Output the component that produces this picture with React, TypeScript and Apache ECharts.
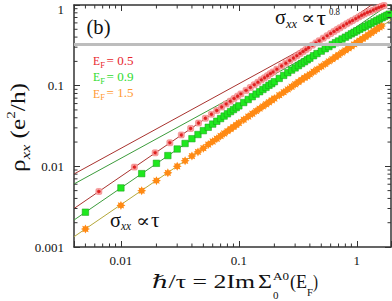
import React, { useEffect, useRef } from 'react';
import * as echarts from 'echarts';

const X_MIN = 0.004;
const X_MAX = 1.95;
const Y_MIN = 0.001;
const Y_MAX = 1;
const X_TICK_VALUES = [0.01, 0.1, 1];
const X_TICK_LABELS = ['0.01', '0.1', '1'];
const Y_TICK_VALUES = [0.001, 0.01, 0.1, 1];
const Y_TICK_LABELS = ['0.001', '0.01', '0.1', '1'];
const X_MINOR = [0.005, 0.006, 0.007, 0.008, 0.009, 0.02, 0.03, 0.04, 0.05, 0.06, 0.07, 0.08, 0.09, 0.2, 0.3, 0.4, 0.5, 0.6, 0.7, 0.8, 0.9];
const Y_MINOR = [0.002, 0.003, 0.004, 0.005, 0.006, 0.007, 0.008, 0.009, 0.02, 0.03, 0.04, 0.05, 0.06, 0.07, 0.08, 0.09, 0.2, 0.3, 0.4, 0.5, 0.6, 0.7, 0.8, 0.9];
const GREY_LEVEL = 0.327;

// E_F = 1.5 (orange)
const X_ORANGE = [0.005, 0.01, 0.015, 0.02, 0.025, 0.03, 0.035, 0.04, 0.045, 0.05, 0.055, 0.06, 0.065, 0.07, 0.075, 0.08, 0.085, 0.09, 0.095, 0.1, 0.11, 0.12, 0.13, 0.14, 0.15, 0.16, 0.17, 0.18, 0.19, 0.2, 0.22, 0.24, 0.26, 0.28, 0.3, 0.32, 0.34, 0.36, 0.38, 0.4, 0.43, 0.46, 0.5, 0.54, 0.58, 0.62, 0.66, 0.7, 0.75, 0.8, 0.85, 0.9, 0.95, 1.0, 1.06, 1.12, 1.18, 1.25, 1.32, 1.4, 1.48, 1.56, 1.62];
const Y_ORANGE = [0.00167, 0.00328, 0.00499, 0.00665, 0.0083, 0.01, 0.0117, 0.0134, 0.0151, 0.0168, 0.0186, 0.0203, 0.022, 0.0238, 0.0255, 0.0273, 0.029, 0.0308, 0.0326, 0.0344, 0.0379, 0.0414, 0.0449, 0.0484, 0.0519, 0.0554, 0.0589, 0.0623, 0.0658, 0.0693, 0.0762, 0.0831, 0.09, 0.0969, 0.104, 0.111, 0.118, 0.125, 0.131, 0.138, 0.149, 0.159, 0.173, 0.186, 0.2, 0.213, 0.227, 0.24, 0.257, 0.274, 0.291, 0.308, 0.325, 0.342, 0.362, 0.382, 0.402, 0.426, 0.449, 0.476, 0.503, 0.53, 0.55];

// E_F = 0.9 (green)
const X_GREEN = [0.005, 0.01, 0.015, 0.02, 0.025, 0.03, 0.035, 0.04, 0.045, 0.05, 0.055, 0.06, 0.065, 0.07, 0.075, 0.08, 0.085, 0.09, 0.095, 0.1, 0.11, 0.12, 0.13, 0.14, 0.15, 0.16, 0.17, 0.18, 0.19, 0.2, 0.22, 0.24, 0.26, 0.28, 0.3, 0.32, 0.34, 0.36, 0.38, 0.4, 0.43, 0.46, 0.5, 0.54, 0.58, 0.62, 0.66, 0.7, 0.75, 0.8, 0.85, 0.9, 0.95, 1.0, 1.06, 1.12, 1.18, 1.25, 1.32, 1.4, 1.48, 1.56, 1.64, 1.72, 1.8, 1.88];
const Y_GREEN = [0.0027, 0.0054, 0.00812, 0.0109, 0.0136, 0.0164, 0.0192, 0.022, 0.0248, 0.0277, 0.0305, 0.0334, 0.0362, 0.0391, 0.042, 0.0448, 0.0477, 0.0505, 0.0534, 0.0562, 0.0618, 0.0674, 0.073, 0.0786, 0.0841, 0.0897, 0.0952, 0.101, 0.106, 0.112, 0.123, 0.134, 0.145, 0.156, 0.166, 0.177, 0.188, 0.198, 0.209, 0.219, 0.235, 0.25, 0.268, 0.287, 0.305, 0.323, 0.341, 0.358, 0.379, 0.399, 0.419, 0.439, 0.459, 0.478, 0.5, 0.522, 0.544, 0.568, 0.592, 0.619, 0.645, 0.671, 0.696, 0.721, 0.745, 0.769];

// E_F = 0.5 (red)
const X_RED = [0.0065, 0.013, 0.0195, 0.026, 0.0325, 0.039, 0.0455, 0.052, 0.0585, 0.065, 0.0715, 0.078, 0.0845, 0.091, 0.0975, 0.104, 0.115, 0.125, 0.135, 0.145, 0.155, 0.165, 0.175, 0.185, 0.195, 0.21, 0.23, 0.25, 0.27, 0.29, 0.31, 0.33, 0.35, 0.37, 0.39, 0.42, 0.45, 0.48, 0.52, 0.56, 0.6, 0.64, 0.68, 0.72, 0.77, 0.82, 0.87, 0.92, 0.98, 1.04, 1.1, 1.16, 1.23, 1.3, 1.38, 1.46, 1.54, 1.62, 1.7];
const Y_RED = [0.00488, 0.00978, 0.0147, 0.0196, 0.0245, 0.0295, 0.0344, 0.0394, 0.0443, 0.0493, 0.0543, 0.0593, 0.0642, 0.0692, 0.0741, 0.0791, 0.0874, 0.095, 0.1026, 0.11, 0.118, 0.125, 0.133, 0.141, 0.148, 0.16, 0.175, 0.19, 0.205, 0.22, 0.235, 0.25, 0.265, 0.28, 0.295, 0.317, 0.339, 0.36, 0.388, 0.416, 0.443, 0.47, 0.496, 0.522, 0.553, 0.584, 0.614, 0.643, 0.677, 0.711, 0.744, 0.776, 0.805, 0.83, 0.865, 0.9, 0.93, 0.96, 0.985];

// fitted straight lines (log-log), end points
const FIT_X = [0.004, 1.95];
const FIT_RED_LOW = [0.003, 1.46];
const FIT_GREEN_LOW = [0.00216, 1.053];
const FIT_ORANGE = [0.00134, 0.653];
const FIT_RED_HIGH = [0.00803, 1.136];
const FIT_GREEN_HIGH = [0.00604, 0.855];

const FONT = '"Liberation Serif", "Times New Roman", "DejaVu Serif", serif';
const RED = '#e8262d';
const GREEN = '#2fdc2f';
const ORANGE = '#ff9a33';
const STAR = 'path://M10,0L5.5,2.3L7.07,7.07L2.3,5.5L0,10L-2.3,5.5L-7.07,7.07L-5.5,2.3L-10,0L-5.5,-2.3L-7.07,-7.07L-2.3,-5.5L0,-10L2.3,-5.5L7.07,-7.07L5.5,-2.3Z';

let measureCtx: CanvasRenderingContext2D | null = null;
function textWidth(t: string, size: number, italic = false): number {
  if (!measureCtx) measureCtx = document.createElement('canvas').getContext('2d');
  if (!measureCtx) return t.length * size * 0.5;
  measureCtx.font = `${italic ? 'italic ' : ''}${size}px ${FONT}`;
  return measureCtx.measureText(t).width;
}

function txt(text: string, x: number, y: number, size: number, color: string, opts: { width?: number; italic?: boolean } = {}) {
  const w = textWidth(text, size, opts.italic);
  const scaleX = opts.width ? opts.width / w : 1;
  return {
    type: 'text',
    x,
    y,
    scaleX,
    silent: true,
    z: 100,
    style: {
      text,
      fontSize: size,
      fontFamily: FONT,
      fontStyle: opts.italic ? 'italic' : 'normal',
      fill: color,
      textAlign: 'left',
      textVerticalAlign: 'middle',
      align: 'left',
      verticalAlign: 'middle',
    },
  };
}

function zip(xs: number[], ys: number[]) {
  return xs.map((x, i) => [x, ys[i]]);
}

function tickIndex(values: number[], v: number) {
  return values.findIndex((t) => Math.abs(Math.log10(v) - Math.log10(t)) < 1e-6);
}

function buildYTitle() {
  const tokens = [
    { t: 'ρ', s: 20, dy: 0, it: false },
    { t: 'xx', s: 13, dy: 7, it: true },
    { t: ' (e', s: 20, dy: 0, it: false },
    { t: '2', s: 12, dy: -7, it: false },
    { t: '/h)', s: 20, dy: 0, it: false },
  ];
  let lx = 0;
  const children: any[] = [];
  tokens.forEach((k) => {
    const el: any = txt(k.t, lx, k.dy, k.s, '#111', { italic: k.it });
    children.push(el);
    lx += textWidth(k.t, k.s, k.it);
  });
  return {
    type: 'group',
    x: 18.5,
    y: 172,
    rotation: Math.PI / 2,
    scaleX: 89 / lx,
    children,
  };
}

export default function App() {
  const ref = useRef<HTMLDivElement>(null);
  useEffect(() => {
    if (!ref.current) return;
    const chart = echarts.init(ref.current, null, { renderer: 'svg' });

    const axisLine = { show: true, lineStyle: { color: '#333', width: 1.5 } };
    const xBase = { type: 'log', min: X_MIN, max: X_MAX, logBase: 10, splitLine: { show: false }, axisLine };
    const yBase = { type: 'log', min: Y_MIN, max: Y_MAX, logBase: 10, splitLine: { show: false }, axisLine };

    const lineSeries = (data: number[], color: string) => ({
      type: 'line',
      data: zip(FIT_X, data),
      showSymbol: false,
      symbol: 'none',
      lineStyle: { color, width: 1 },
      z: 2,
      clip: true,
      silent: true,
    });

    const option: any = {
      animation: false,
      grid: { left: 74, right: 1, top: 5, bottom: 54, containLabel: false, outerBoundsMode: 'none' },
      xAxis: [
        {
          ...xBase,
          position: 'bottom',
          axisTick: { show: true, inside: true, length: 6, lineStyle: { color: '#333' } },
          axisLabel: {
            show: true,
            margin: 7,
            fontSize: 13,
            fontFamily: FONT,
            color: '#111',
            formatter: (v: number) => {
              const i = tickIndex(X_TICK_VALUES, v);
              return i >= 0 ? X_TICK_LABELS[i] : '';
            },
          },
        },
        {
          ...xBase,
          position: 'top',
          axisTick: { show: true, inside: true, length: 6, lineStyle: { color: '#333' } },
          axisLabel: { show: false },
        },
      ],
      yAxis: [
        {
          ...yBase,
          position: 'left',
          axisTick: { show: true, inside: true, length: 6, lineStyle: { color: '#333' } },
          axisLabel: {
            show: true,
            margin: 10,
            fontSize: 13,
            fontFamily: FONT,
            color: '#111',
            formatter: (v: number) => {
              const i = tickIndex(Y_TICK_VALUES, v);
              if (i < 0) return '';
              return i === Y_TICK_VALUES.length - 1 ? `{top|${Y_TICK_LABELS[i]}}` : Y_TICK_LABELS[i];
            },
            rich: { top: { fontSize: 13, fontFamily: FONT, color: '#111', padding: [9, 0, 0, 0] } },
          },
        },
        {
          ...yBase,
          position: 'right',
          axisTick: { show: true, inside: true, length: 6, lineStyle: { color: '#333' } },
          axisLabel: { show: false },
        },
      ],
      series: [
        {
          type: 'line',
          data: [],
          markLine: {
            silent: true,
            symbol: 'none',
            label: { show: false },
            lineStyle: { color: '#bdbdbd', width: 3, type: 'solid' },
            data: [{ yAxis: GREY_LEVEL }],
          },
          z: 1,
        },
        lineSeries(FIT_RED_HIGH, '#a8322e'),
        lineSeries(FIT_GREEN_HIGH, '#3c9c3c'),
        lineSeries(FIT_RED_LOW, '#a8322e'),
        lineSeries(FIT_GREEN_LOW, '#3c9c3c'),
        lineSeries(FIT_ORANGE, '#b5a83a'),
        {
          type: 'scatter',
          data: zip(X_ORANGE, Y_ORANGE),
          symbol: STAR,
          symbolSize: 9,
          itemStyle: { color: '#ff8a14', opacity: 1 },
          z: 3,
          silent: true,
        },
        {
          type: 'scatter',
          data: zip(X_GREEN, Y_GREEN),
          symbol: 'rect',
          symbolSize: 6.5,
          itemStyle: { color: '#1ee81e', borderColor: '#1a9a1a', borderWidth: 0.5, opacity: 1 },
          z: 3,
          silent: true,
        },
        {
          type: 'scatter',
          data: zip(X_RED, Y_RED),
          symbol: 'roundRect',
          symbolSize: 6,
          itemStyle: { color: '#f7a4a4', borderColor: '#ef7070', borderWidth: 0.5, opacity: 1 },
          z: 3,
          silent: true,
        },
        {
          type: 'scatter',
          data: zip(X_RED, Y_RED),
          symbol: STAR,
          symbolSize: 4.5,
          itemStyle: { color: '#e02020', opacity: 1 },
          z: 4,
          silent: true,
        },
        {
          type: 'custom',
          silent: true,
          z: 6,
          data: X_MINOR.map((v) => [v, 0.01]),
          renderItem: (params: any, api: any) => {
            const cs = params.coordSys;
            const p = api.coord([api.value(0), 0.01]);
            const st = { stroke: '#333', lineWidth: 1 };
            return {
              type: 'group',
              children: [
                { type: 'line', shape: { x1: p[0], y1: cs.y + cs.height, x2: p[0], y2: cs.y + cs.height - 3.5 }, style: st },
                { type: 'line', shape: { x1: p[0], y1: cs.y, x2: p[0], y2: cs.y + 3.5 }, style: st },
              ],
            };
          },
        },
        {
          type: 'custom',
          silent: true,
          z: 6,
          data: Y_MINOR.map((v) => [0.01, v]),
          renderItem: (params: any, api: any) => {
            const cs = params.coordSys;
            const p = api.coord([0.01, api.value(1)]);
            const st = { stroke: '#333', lineWidth: 1 };
            return {
              type: 'group',
              children: [
                { type: 'line', shape: { x1: cs.x, y1: p[1], x2: cs.x + 3.5, y2: p[1] }, style: st },
                { type: 'line', shape: { x1: cs.x + cs.width, y1: p[1], x2: cs.x + cs.width - 3.5, y2: p[1] }, style: st },
              ],
            };
          },
        },
      ],
      graphic: [
        // panel label
        txt('(b)', 86.5, 27, 20, '#111', { width: 24 }),
        // legend
        txt('E', 93, 61, 11.5, RED),
        txt('F', 100.3, 64.5, 8.5, RED),
        txt('= 0.5', 106.5, 61, 12, RED, { width: 27 }),
        txt('E', 93, 77, 11.5, GREEN),
        txt('F', 100.3, 80.5, 8.5, GREEN),
        txt('= 0.9', 106.5, 77, 12, GREEN, { width: 27 }),
        txt('E', 93, 93.5, 11.5, ORANGE),
        txt('F', 100.3, 97, 8.5, ORANGE),
        txt('= 1.5', 106.5, 93.5, 12, ORANGE, { width: 27 }),
        // sigma ~ tau^0.8
        txt('σ', 275, 17, 22, '#111', { width: 11 }),
        txt('xx', 286, 23.5, 13, '#111', { italic: true, width: 11 }),
        txt('∝', 301, 18, 18, '#111', { width: 14 }),
        txt('τ', 316.5, 17.5, 22, '#111', { width: 9.5 }),
        txt('0.8', 329, 11, 11, '#111', { width: 11 }),
        // sigma ~ tau
        txt('σ', 110, 220, 22, '#111', { width: 11 }),
        txt('xx', 121, 225.5, 13, '#111', { italic: true, width: 10 }),
        txt('∝', 136, 220.5, 18, '#111', { width: 14 }),
        txt('τ', 151, 219.5, 22, '#111', { width: 8.5 }),
        // x axis title
        txt('ℏ/τ = 2Im', 152, 282, 18, '#111', { width: 103 }),
        txt('Σ', 258, 282, 18, '#111', { width: 14 }),
        txt('0', 273, 295, 11, '#111'),
        txt('A0', 273, 276.5, 11, '#111', { width: 16 }),
        txt('(E', 290, 282, 18, '#111', { width: 17 }),
        txt('F', 307, 292, 11, '#111', { width: 6 }),
        txt(')', 313, 282, 18, '#111', { width: 5 }),
        // y axis title
        buildYTitle(),
      ],
    };

    chart.setOption(option);
    return () => chart.dispose();
  }, []);

  return <div ref={ref} style={{ position: 'fixed', left: 0, top: 0, width: 392, height: 301, background: '#fff' }} />;
}
